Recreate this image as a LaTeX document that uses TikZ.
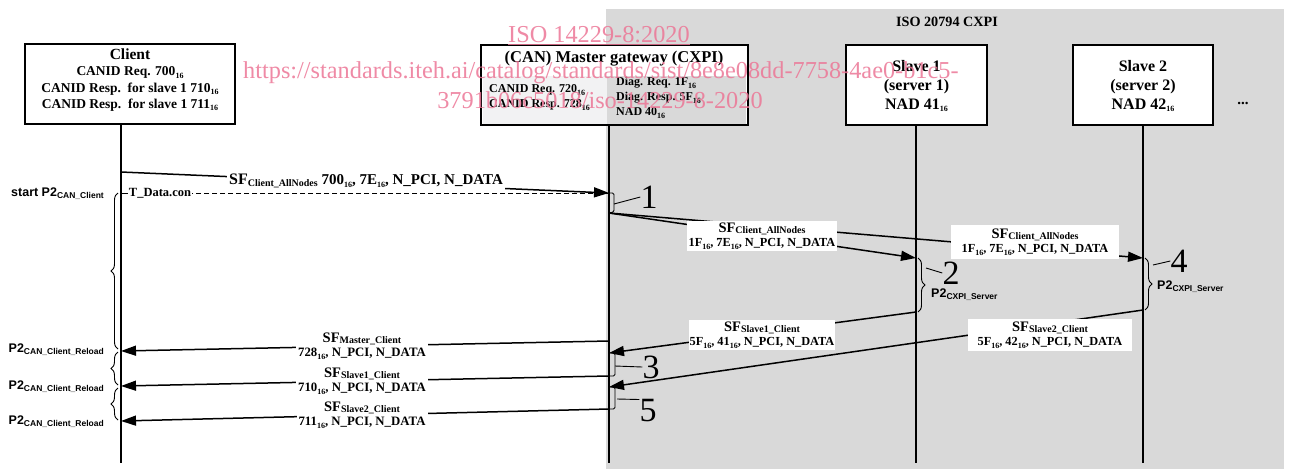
\documentclass[tikz,border=0pt]{standalone}
\usepackage{fontspec}
\setmainfont{Liberation Serif}
\setsansfont{Liberation Sans}
\usetikzlibrary{arrows.meta,decorations.pathreplacing}
\definecolor{bggray}{RGB}{217,217,217}
\definecolor{panel}{RGB}{242,242,243}
\definecolor{wmpink}{RGB}{236,118,150}
\newcommand\hs{\raisebox{-2.5pt}{\fontsize{8}{8}\selectfont 16}}
\newcommand\SFs[2][15]{{\fontsize{#1}{#1}\selectfont SF}\raisebox{-1.5pt}{\fontsize{10}{10}\selectfont #2}}
\newcommand\Ptwo[1]{{\fontsize{12.5}{13}\selectfont P2}\raisebox{-2pt}{\fontsize{8.5}{9}\selectfont #1}}
\begin{document}
\begin{tikzpicture}[x=1pt,y=-1pt,
  box/.style={draw, line width=2.2pt, fill=white, inner sep=0pt},
  life/.style={line width=1.8pt},
  msg/.style={line width=1.5pt, -{Triangle[length=15pt,width=10pt]}},
  lbl/.style={fill=white, inner sep=2pt, font=\fontsize{12.3}{14.5}\selectfont\bfseries, align=center},
  txt/.style={font=\bfseries, align=center, inner sep=0pt},
  sanslbl/.style={font=\sffamily\bfseries, inner sep=0pt},
  num/.style={font=\fontsize{34}{34}\selectfont, inner sep=0pt},
  thinln/.style={line width=0.9pt},
  brc/.style={line width=0.9pt, decorate, decoration={brace, amplitude=7pt}},
  wm/.style={text=wmpink, font=\fontsize{24.3}{27}\selectfont, inner sep=0pt, opacity=0.85}
]
\useasboundingbox (0,0) rectangle (1289,469);
\fill[bggray] (606,9) rectangle (1284,469);
\node[txt, font=\fontsize{14.2}{16}\selectfont\bfseries] (cxpi) at (947,22) {ISO 20794 CXPI};

% boxes
\node[box, minimum width=210pt, minimum height=80pt] (client) at (130,84) {};
\node[box, minimum width=267pt, minimum height=80pt] (master) at (614.5,85) {};
\node[box, minimum width=141pt, minimum height=80pt] (slave1) at (916.5,85) {};
\node[box, minimum width=140pt, minimum height=80pt] (slave2) at (1143,85) {};
\fill[panel] (483,76) rectangle (607,123.5);
\fill[bggray] (607,76) rectangle (746,123.5);

\node[txt, font=\fontsize{13.5}{16.3}\selectfont\bfseries] (clientT) at (130,80)
  {{\fontsize{15.5}{16}\selectfont Client}\\CANID Req. 700\hs\\CANID Resp.\ \ for slave 1 710\hs\\CANID Resp.\ \ for slave 1 711\hs};
\node[txt, font=\fontsize{16.5}{17}\selectfont\bfseries] (masterT) at (614,59) {(CAN) Master gateway (CXPI)};
\node[txt, anchor=west, align=left, font=\fontsize{12}{15}\selectfont\bfseries] (masterL) at (489,97.5)
  {CANID Req. 720\hs\\CANID Resp. 728\hs};
\node[txt, anchor=west, align=left, font=\fontsize{12}{15}\selectfont\bfseries] (masterR) at (616,98)
  {Diag. Req. 1F\hs\\Diag. Resp. 5F\hs\\NAD 40\hs};
\node[txt, font=\fontsize{16}{19}\selectfont\bfseries] (slave1T) at (916.5,86) {Slave 1\\(server 1)\\NAD 41\hs};
\node[txt, font=\fontsize{16}{19}\selectfont\bfseries] (slave2T) at (1143,86) {Slave 2\\(server 2)\\NAD 42\hs};
\node[txt, font=\fontsize{15}{16}\selectfont\bfseries] (dots) at (1243,103) {...};

% lifelines
\coordinate (cb) at (121,463);
\coordinate (mb) at (609,463);
\coordinate (s1b) at (916,463);
\coordinate (s2b) at (1143,463);
\draw[life] (121,124) -- (cb);
\draw[life] (609,125) -- (mb);
\draw[life] (916,125) -- (s1b);
\draw[life] (1143,125) -- (s2b);

% points on lifelines
\coordinate (c1) at (121,172);
\coordinate (m1) at (609,193);
\coordinate (cd) at (121,193);
\coordinate (m2) at (609,213);
\coordinate (s1a) at (916,258);
\coordinate (s2a) at (1143,258);
\coordinate (s1r) at (916,312);
\coordinate (s2r) at (1143,310);
\coordinate (m3) at (609,353);
\coordinate (m5) at (609,387);
\coordinate (mc1) at (609,341);
\coordinate (mc2) at (609,376);
\coordinate (mc3) at (609,409);
\coordinate (cc1) at (121,351);
\coordinate (cc2) at (121,386);
\coordinate (cc3) at (121,421);

% message 1 and T_Data.con
\draw[msg] (c1) -- (m1);
\node[lbl, font=\fontsize{15}{16}\selectfont\bfseries] (l1) at (366,181)
  {\SFs[16]{Client\_AllNodes} 700\hs, 7E\hs, N\_PCI, N\_DATA};
\node[txt, font=\fontsize{12.5}{14}\selectfont\bfseries, fill=white, inner xsep=1pt] (tdata) at (160,193) {T\_Data.con};
\draw[thinln, dash pattern=on 5pt off 3pt] (m1) -- (tdata.east);
\draw[thinln] (tdata.west) -- (cd);

% bracket 1
\coordinate (b1t) at (614,193);
\coordinate (b1b) at (614,212);
\node[num] (n1) at (649,197) {1};
\draw[thinln, rounded corners=1.5pt] (m1) -- (b1t) -- (b1b) -- (m2);
\draw[thinln] (614,204) -- (n1.west);

% messages to slaves
\draw[msg] (m2) -- (s1a);
\draw[msg] (m2) -- (s2a);
\node[lbl] (l2) at (762,236) {\SFs[14.5]{Client\_AllNodes}\\1F\hs, 7E\hs, N\_PCI, N\_DATA};
\node[lbl, inner xsep=11pt, inner ysep=4pt] (l4) at (1035,242) {\SFs[14.5]{Client\_AllNodes}\\1F\hs, 7E\hs, N\_PCI, N\_DATA};

% slave braces
\draw[brc] (918,258) -- (918,312);
\node[num] (n2) at (951,273) {2};
\draw[thinln] (926,268) -- (n2.west);
\node[sanslbl, anchor=west] (p2s1) at (931,295) {\Ptwo{CXPI\_Server}};
\draw[brc] (1145,258) -- (1145,310);
\node[num] (n4) at (1179,261) {4};
\draw[thinln] (1153,265) -- (n4.west);
\node[sanslbl, anchor=west] (p2s2) at (1157,287) {\Ptwo{CXPI\_Server}};

% responses from slaves
\draw[msg] (s1r) -- (m3);
\draw[msg] (s2r) -- (m5);
\node[lbl, inner xsep=1pt] (l3) at (762,335) {\SFs[14.5]{Slave1\_Client}\\5F\hs, 41\hs, N\_PCI, N\_DATA};
\node[lbl, inner xsep=10pt, inner ysep=3pt] (l5) at (1050,335) {\SFs[14.5]{Slave2\_Client}\\5F\hs, 42\hs, N\_PCI, N\_DATA};

% brackets 3 and 5
\node[num] (n3) at (651,367) {3};
\draw[thinln, rounded corners=1.5pt] (m3) -- (615,353) -- (615,376) -- (mc2);
\draw[thinln] (615,366) -- (n3.west);
\node[num] (n5) at (648,411) {5};
\draw[thinln, rounded corners=1.5pt] (m5) -- (615,387) -- (615,409) -- (mc3);
\draw[thinln] (617,399) -- (n5.north west);

% to client
\draw[msg] (mc1) -- (cc1);
\draw[msg] (mc2) -- (cc2);
\draw[msg] (mc3) -- (cc3);
\node[lbl, font=\fontsize{12.8}{14.5}\selectfont\bfseries] (lc1) at (362,346) {\SFs[14.5]{Master\_Client}\\728\hs, N\_PCI, N\_DATA};
\node[lbl, font=\fontsize{12.8}{14.5}\selectfont\bfseries] (lc2) at (362,381) {\SFs[14.5]{Slave1\_Client}\\710\hs, N\_PCI, N\_DATA};
\node[lbl, font=\fontsize{12.8}{14.5}\selectfont\bfseries] (lc3) at (362,415) {\SFs[14.5]{Slave2\_Client}\\711\hs, N\_PCI, N\_DATA};

% client braces and labels
\draw[brc] (118,349) -- (118,193);
\draw[brc] (118,385) -- (118,352);
\draw[brc] (118,420) -- (118,388);
\node[sanslbl, anchor=east] (sp2) at (104,194) {{\fontsize{12.5}{13}\selectfont start }\Ptwo{CAN\_Client}};
\node[sanslbl, anchor=east] (r1) at (104,350) {\Ptwo{CAN\_Client\_Reload}};
\node[sanslbl, anchor=east] (r2) at (104,387) {\Ptwo{CAN\_Client\_Reload}};
\node[sanslbl, anchor=east] (r3) at (104,422) {\Ptwo{CAN\_Client\_Reload}};

% watermark
\node[wm] (wm1) at (599,36) {\underline{ISO 14229-8:2020}};
\node[wm, anchor=west] (wm2) at (243,73) {https://standards.iteh.ai/catalog/standards/sist/8e8e08dd-7758-4ae0-b1c5-};
\node[wm] (wm3) at (600,100) {3791b06c5018/iso-14229-8-2020};
\end{tikzpicture}
\end{document}
